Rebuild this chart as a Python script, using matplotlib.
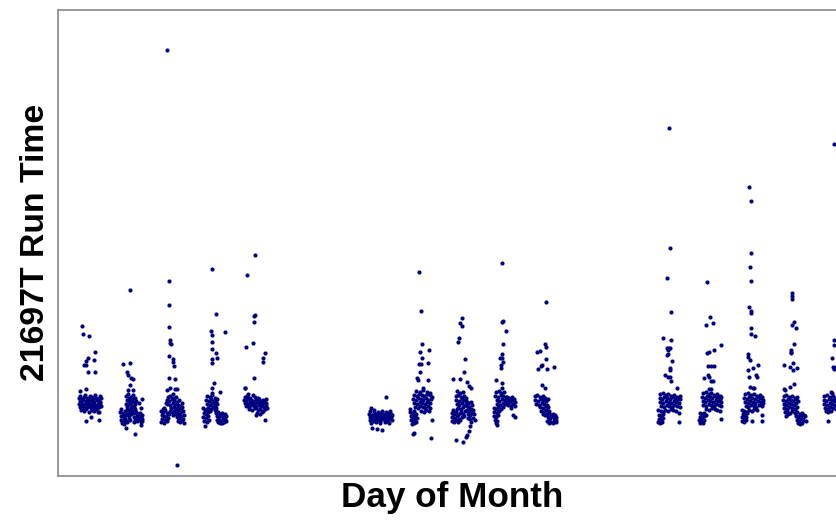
import matplotlib
matplotlib.use("Agg")
import matplotlib.pyplot as plt

# Run times (seconds) of job 21697T, as (hour of day, run time) for each weekday of the month
d01 = [(7.5,174),(8.1,166),(11.4,164),(14.7,148),(11.1,142),(9.5,139),(14.1,140),(8.5,135),(9.7,135),
       (11.0,128),(14.9,128),(6.2,109),(9.5,111),(9.5,79),(12.8,83),(17.4,80),(16.6,88),
       (6.4,104),(9.0,105),(12.2,104),(14.8,105),(17.9,104),
       (5.8,102),(7.4,101),(8.6,103),(10.1,102),(11.3,101),(12.9,103),(13.8,101),(15.5,102),(16.9,101),(18.3,102),
       (6.1,99),(7.0,98),(8.2,100),(9.4,99),(10.6,98),(11.8,100),(13.2,99),(14.4,98),(15.9,100),(17.2,99),(18.0,98),
       (5.7,96),(6.8,97),(7.9,95),(9.1,96),(10.3,97),(11.5,95),(12.6,96),(13.9,97),(15.1,95),(16.4,96),(17.6,97),
       (6.3,93),(7.6,94),(8.8,92),(10.0,93),(11.2,94),(12.4,92),(13.5,93),(14.7,94),(16.0,92),(17.3,93),(18.2,94),
       (6.9,90),(8.4,89),(9.8,91),(11.6,88),(13.0,90),(14.2,89),(15.7,91),(17.0,88)]

d02 = [(11.1,210),(7.2,136),(11.1,137),(9.7,128),(10.3,125),(12.0,122),(13.0,121),(11.4,115),(9.9,110),(13.2,110),
       (18.4,101),(16.5,97),(17.8,92),(9.1,72),(14.3,66),(17.6,75),
       (8.7,104),(10.2,106),(11.6,103),(13.0,105),(14.2,102),(9.3,100),(10.8,99),(12.3,101),(13.6,98),(8.9,96),
       (10.0,95),(11.3,97),(12.7,94),(14.0,96),(9.6,93),(11.9,92),(13.3,93),(10.5,102),(12.0,98),(14.5,99),
       (5.7,88),(6.9,87),(8.3,89),(9.7,86),(11.0,88),(11.9,86),(6.2,84),(7.6,83),(9.0,85),(10.4,82),(5.9,80),
       (7.1,79),(8.5,81),(9.8,78),(11.2,80),(6.5,77),(8.0,76),(10.6,85),(7.8,86),(9.2,79),(6.0,91),(10.9,90),
       (13.4,87),(14.6,88),(15.9,86),(17.2,87),(18.2,85),(13.8,83),(15.1,84),(16.4,82),(17.7,83),(14.2,80),
       (15.5,79),(16.8,80),(18.0,79),(13.3,78),(16.1,86),(14.9,81),(17.4,78),(18.3,81),
       (9.5,90),(12.6,89),(13.9,91)]

d03 = [(8.7,450),(9.9,219),(9.9,195),(9.9,173),(10.3,160),(10.6,157),(11.2,156),(9.9,144),(12.1,141),(12.2,138),
       (12.6,134),(9.9,122),(13.2,121),(10.7,112),(13.2,111),(8.7,110),(14.4,111),(12.2,106),(17.6,97),(17.3,93),
       (7.0,92),(14.6,35),
       (9.2,103),(10.8,104),(12.4,102),(13.9,103),(8.5,100),(10.1,99),(11.6,101),(13.1,100),(14.6,98),(16.0,100),
       (9.0,96),(10.5,95),(12.0,97),(13.4,96),(15.2,95),(11.1,92),(12.8,93),(14.2,91),(16.5,94),(8.0,97),
       (5.4,89),(6.6,88),(7.8,90),(8.9,87),(5.8,85),(7.1,84),(8.4,83),(9.3,86),(6.0,81),(7.4,80),(8.7,79),
       (5.5,78),(6.8,77),(9.1,82),(6.3,91),
       (14.1,91),(15.4,90),(16.7,92),(17.9,89),(14.6,87),(15.9,86),(17.2,88),(18.4,85),(14.3,83),(15.6,82),
       (16.9,84),(18.1,81),(14.9,79),(16.2,78),(17.5,80),(18.5,77),(15.0,93),
       (10.6,89),(11.8,88),(13.0,89),(12.2,85),(13.5,86),(10.0,86)]

d04 = [(11.0,231),(13.0,186),(18.2,168),(10.4,169),(11.0,165),(11.0,158),(11.0,151),(13.0,147),(13.6,142),
       (10.9,141),(11.0,137),(12.3,117),(11.0,112),(15.7,108),(7.1,74),
       (8.0,104),(9.6,103),(11.2,105),(12.6,102),(13.7,101),(7.6,100),(9.0,99),(10.4,101),(11.9,99),(13.3,98),
       (8.3,96),(9.8,95),(11.1,97),(12.5,95),(13.8,96),(8.8,92),(10.2,91),(11.7,93),(13.0,92),(10.9,107),
       (5.8,92),(7.0,90),(8.2,91),(6.1,87),(7.5,86),(8.7,88),(5.9,83),(7.2,82),(8.4,84),(6.4,79),(7.8,78),(9.0,80),
       (13.5,87),(14.6,88),(15.8,86),(17.0,87),(18.2,86),(13.9,84),(15.1,83),(16.3,85),(17.5,83),(18.8,84),
       (13.6,80),(14.8,81),(16.0,79),(17.2,80),(18.4,81),(14.3,78),(15.5,77),(16.8,77),(18.0,78),(19.0,79),
       (12.8,90),(13.4,89),(9.5,89)]

d05 = [(12.0,245),(7.3,225),(11.5,184),(12.0,185),(11.5,178),(10.6,157),(6.6,153),(17.8,147),(16.4,142),
       (16.4,138),(11.4,122),(6.1,112),(6.3,112),(8.0,106),(17.8,80),(12.5,85),
       (5.9,103),(7.3,104),(8.8,102),(10.5,105),(12.2,103),(13.6,102),
       (5.7,100),(6.9,99),(8.1,101),(9.5,100),(11.0,99),(12.6,100),(14.0,101),(15.4,99),(16.8,100),(18.2,101),
       (6.3,97),(7.6,96),(9.0,98),(10.3,97),(11.7,96),(13.1,98),(14.5,97),(15.8,96),(17.2,98),(18.6,97),
       (6.7,94),(8.3,93),(9.8,95),(11.3,94),(12.8,93),(14.2,95),(15.6,94),(16.9,93),(18.3,95),
       (8.6,91),(10.1,90),(12.0,92),(13.5,90),(14.9,91),(16.3,89),(17.6,91),(18.8,92),
       (12.9,87),(14.8,86),(16.2,88)]

d08 = [(16.1,103),(7.3,92),(8.1,72),(10.7,71),(14.0,70),
       (6.8,89),(8.9,90),(11.4,88),(13.8,89),(16.2,88),(18.5,89),
       (6.3,86),(7.7,85),(9.1,87),(10.5,86),(11.9,85),(13.2,87),(14.6,86),(16.0,85),(17.4,87),(18.8,86),(19.5,85),
       (6.5,83),(7.9,82),(9.3,84),(10.7,83),(12.1,82),(13.5,84),(14.9,83),(16.3,82),(17.7,84),(19.1,83),
       (6.9,80),(8.3,79),(9.7,81),(11.1,80),(12.5,79),(13.9,81),(15.3,80),(16.7,79),(18.1,81),(19.4,80),
       (7.5,77),(10.0,78),(12.8,77),(15.6,78),(17.9,77)]

d09 = [(11.5,228),(12.3,189),(13.0,156),(11.9,148),(16.9,150),(12.9,142),(11.1,136),(12.5,136),(16.5,137),
       (11.7,128),(10.3,122),(10.9,120),(16.5,120),(13.6,112),(8.2,67),(7.9,66),(18.3,62),(18.7,80),
       (9.5,109),(11.6,108),(13.8,110),(15.9,108),(17.6,107),
       (8.3,105),(9.9,104),(11.4,106),(12.9,105),(14.4,104),(16.0,106),(17.5,105),(18.6,103),
       (7.8,101),(9.3,100),(10.8,102),(12.3,101),(13.7,100),(15.2,102),(16.7,100),(18.1,101),
       (8.6,97),(10.1,96),(11.6,98),(13.1,97),(14.6,96),(16.1,98),(17.6,97),
       (9.0,93),(10.5,92),(12.0,94),(13.5,93),(15.0,92),(16.4,94),(17.9,92),
       (12.6,89),(14.1,88),(15.6,90),(17.0,89),
       (6.2,88),(7.4,87),(8.6,89),(9.8,86),(6.6,84),(7.8,83),(9.0,85),(10.2,82),(6.4,80),(7.6,79),(8.8,81),
       (7.0,76),(8.3,77),(9.5,78),(6.0,91)]

d10 = [(12.5,182),(11.1,177),(12.5,174),(10.7,162),(10.1,158),(14.0,141),(13.3,128),(6.9,121),(11.3,121),
       (15.0,118),(16.2,114),(17.5,112),(8.6,60),(12.7,58),(14.8,63),(15.4,65),(16.4,69),(17.5,78),(16.9,74),
       (9.5,109),(11.3,107),(12.8,108),(8.6,104),(10.2,105),(11.8,103),(13.3,104),(14.7,102),(8.9,100),(10.5,99),
       (12.0,101),(13.6,100),(15.0,98),(9.3,96),(10.8,95),(12.4,97),(13.9,95),(10.0,92),(11.5,91),(13.0,93),
       (14.8,99),(16.0,97),(17.3,98),(15.2,94),(16.5,93),(17.8,95),(14.9,90),(16.2,89),(17.5,91),(18.8,90),
       (15.5,86),(16.8,85),(18.1,87),(19.3,86),(15.8,82),(17.1,81),(18.4,82),(19.6,80),
       (6.4,87),(7.6,86),(8.8,88),(10.0,85),(11.0,87),(6.7,83),(7.9,82),(9.1,84),(10.3,81),(6.5,79),(7.7,78),
       (8.9,80),(10.1,78),(11.1,80),(7.2,90),(9.6,91),
       (11.7,88),(12.9,86),(13.8,89),(12.2,83),(13.6,84)]

d11 = [(11.5,237),(11.7,178),(12.3,179),(13.7,169),(12.3,156),(11.5,146),(10.2,142),(11.5,142),(11.9,138),
       (11.0,135),(11.0,132),(8.2,120),(11.5,117),(11.5,112),
       (8.0,108),(9.6,109),(11.2,107),(12.7,108),(7.7,104),(9.2,103),(10.8,105),(12.3,104),(13.8,103),(8.4,100),
       (10.0,99),(11.5,101),(13.0,100),(14.2,99),(8.8,96),(10.4,95),(11.9,97),(13.4,96),
       (14.5,103),(15.8,102),(17.1,103),(18.4,101),(14.8,99),(16.1,98),(17.4,100),(18.9,98),(15.2,95),(16.5,94),
       (17.8,96),(19.0,94),(14.4,96),(16.8,92),
       (6.7,92),(8.0,91),(9.3,93),(7.1,88),(8.4,87),(9.7,89),(6.6,84),(7.9,83),(9.1,85),(7.3,80),(8.6,79),(7.8,77),
       (18.2,85),(19.0,83),(10.9,91),(12.1,93),(8.5,75)]

d12 = [(13.3,198),(12.3,156),(13.3,153),(9.6,149),(8.0,148),(13.3,141),(10.9,135),(10.2,134),(8.6,131),
       (13.9,131),(17.8,133),(10.6,115),(12.7,112),
       (6.5,104),(8.1,105),(9.7,103),(11.3,104),(12.8,102),(6.9,100),(8.4,99),(10.0,101),(11.6,100),(13.1,99),
       (14.3,101),(7.4,96),(9.0,95),(10.6,97),(12.1,96),(13.6,95),
       (9.9,93),(11.4,92),(12.9,94),(14.4,93),(10.4,89),(11.9,88),(13.4,90),(14.9,89),(11.2,86),(12.6,85),
       (13.7,86),(14.9,87),(16.1,85),(17.3,86),(18.6,85),(14.1,83),(15.3,82),(16.5,84),(17.7,82),(19.0,83),
       (13.9,79),(15.1,80),(16.3,78),(17.5,79),(18.8,80),(14.6,77),(16.9,77),(19.2,78)]

d15 = [(12.8,372),(13.3,252),(11.2,222),(13.9,188),(9.3,162),(13.9,160),(11.2,152),(12.2,152),(13.2,152),
       (12.2,150),(11.4,145),(12.2,146),(14.5,139),(13.2,132),(13.2,130),(10.4,125),(12.0,123),(13.2,123),
       (13.9,119),(17.1,112),(18.6,87),(18.6,78),
       (7.4,106),(9.0,107),(10.7,105),(12.3,106),(14.0,104),(15.6,105),(17.3,103),(18.9,104),
       (7.1,102),(8.5,101),(10.0,103),(11.5,102),(13.0,101),(14.5,103),(16.0,102),(17.5,100),(19.2,101),
       (7.6,98),(9.2,97),(10.8,99),(12.4,98),(13.9,97),(15.4,99),(16.9,98),(18.4,97),
       (8.0,94),(9.6,93),(11.2,95),(12.8,94),(14.3,93),(15.8,95),(17.3,94),(18.9,93),
       (10.2,90),(12.0,89),(13.6,91),(15.1,90),(16.6,89),
       (6.5,90),(7.7,89),(8.9,88),(6.9,85),(8.1,84),(9.3,86),(6.6,81),(7.8,80),(9.0,82),(6.4,78),(7.5,77),(8.6,78)]

d16 = [(10.8,218),(12.6,183),(10.3,175),(14.0,177),(18.8,155),(10.5,147),(11.7,148),(14.7,150),(13.0,134),
       (11.4,134),(14.7,134),(8.9,122),(11.4,125),(12.0,123),(12.8,119),(14.0,119),(11.8,111),(13.0,111),(18.6,81),
       (8.2,107),(9.9,108),(11.6,106),(13.3,107),(15.0,105),(16.7,106),(18.3,104),
       (7.8,103),(9.3,102),(10.8,104),(12.3,103),(13.8,102),(15.3,104),(16.8,103),(18.3,101),(19.1,103),
       (8.1,99),(9.7,98),(11.2,100),(12.7,99),(14.2,98),(15.7,100),(17.2,99),(18.7,98),
       (8.6,95),(10.1,94),(11.7,96),(13.2,95),(14.7,94),(16.2,96),(17.7,95),(19.0,94),
       (10.4,91),(12.0,90),(13.6,92),(15.2,91),(16.8,90),(18.1,89),
       (6.4,87),(7.6,86),(8.8,87),(10.0,85),(6.8,83),(8.0,82),(9.2,84),(6.3,80),(7.5,79),(8.7,80),(6.9,77),(8.2,77)]

d17 = [(11.1,313),(12.4,299),(12.4,247),(11.8,233),(12.4,219),(11.1,193),(12.4,189),(12.4,187),(12.4,172),
       (12.4,166),(14.4,164),(10.5,146),(10.7,143),(11.7,140),(10.5,130),(13.2,132),(16.5,135),(11.1,123),
       (15.1,125),(15.5,123),(11.8,113),(13.6,112),(14.2,112),(12.6,79),(18.5,79),(18.8,85),
       (8.8,106),(10.5,107),(12.2,105),(13.9,106),(15.6,104),(17.3,105),(18.9,103),
       (8.3,102),(9.8,101),(11.4,103),(12.9,102),(14.4,101),(16.0,103),(17.5,102),(19.1,100),
       (8.7,98),(10.3,97),(11.9,99),(13.4,98),(14.9,97),(16.5,99),(18.0,98),(19.5,97),
       (9.2,94),(10.8,93),(12.4,95),(13.9,94),(15.4,93),(16.9,95),(18.4,94),
       (11.1,90),(12.7,89),(14.3,91),(16.0,90),
       (7.0,90),(8.2,89),(9.4,88),(7.4,86),(8.6,85),(9.8,87),(6.9,83),(8.1,82),(9.3,83),(7.2,79),(8.4,78),(9.6,80)]

d18 = [(12.1,207),(12.1,204),(12.1,201),(13.5,178),(12.1,175),(14.3,172),(13.5,156),(11.4,150),(11.7,148),
       (11.4,147),(12.7,137),(7.5,135),(11.0,133),(14.8,132),(12.9,130),(13.5,116),(11.0,113),(7.5,111),(8.3,110),
       (7.3,104),(8.9,105),(10.5,103),(12.1,104),(13.7,102),(15.2,103),
       (6.9,100),(8.4,99),(9.9,101),(11.4,100),(12.9,99),(14.4,101),(15.6,99),
       (7.2,96),(8.7,95),(10.2,97),(11.7,96),(13.2,95),(14.7,97),
       (7.6,92),(9.1,91),(10.6,93),(12.1,92),(13.6,91),(15.0,93),
       (8.0,88),(9.5,89),(11.0,87),(8.8,84),(10.0,86),(12.3,89),
       (14.0,87),(15.3,88),(16.6,86),(17.9,87),(19.2,85),(14.4,84),(15.7,83),(17.0,85),(18.3,83),(19.6,84),
       (14.8,80),(16.1,79),(17.4,81),(18.7,80),(20.0,79),(15.5,77),(16.9,76),(18.2,77)]

d19 = [(12.3,356),(12.5,160),(12.7,155),(11.1,142),(11.9,133),(13.9,133),(12.3,131),(10.6,108),(11.5,107),(9.2,79),
       (7.0,104),(8.6,105),(10.2,103),(11.8,104),(13.4,102),(14.6,104),
       (6.5,100),(8.0,99),(9.6,101),(11.2,100),(12.8,99),(14.3,101),
       (6.8,96),(8.4,95),(10.0,97),(11.6,96),(13.2,95),(14.8,97),
       (7.3,92),(8.9,91),(10.5,93),(12.1,92),(13.7,91),
       (7.7,89),(9.3,88),(10.8,89)]

days = [1, 2, 3, 4, 5, 8, 9, 10, 11, 12, 15, 16, 17, 18, 19]
runs = [d01, d02, d03, d04, d05, d08, d09, d10, d11, d12, d15, d16, d17, d18, d19]

# Day of month with the time of day as a fraction
xs, ys = [], []
for day, pts in zip(days, runs):
    for hour, secs in pts:
        xs.append(day + hour / 24.0)
        ys.append(secs)

fig = plt.figure(figsize=(8.37, 5.20), dpi=100)
ax = fig.add_axes([58 / 837, 44 / 520, 781 / 837, 466 / 520])
ax.scatter(xs, ys, s=9, c="#000080", linewidths=0)

ax.set_xlim(0.725, 19.644)
ax.set_ylim(24, 490)
ax.set_xticks([])
ax.set_yticks([])
for sp in ax.spines.values():
    sp.set_color("#888888")
    sp.set_linewidth(1.2)

lab = dict(fontweight="bold", family="Liberation Sans")
ax.set_xlabel("Day of Month", va="center", fontsize=25.3, **lab)
ax.xaxis.set_label_coords(0.5045, -0.0472)
ax.set_ylabel("21697T Run Time", va="center", fontsize=24.3, **lab)
ax.yaxis.set_label_coords(-0.029, 0.501)

fig.savefig("out.png", dpi=100)
